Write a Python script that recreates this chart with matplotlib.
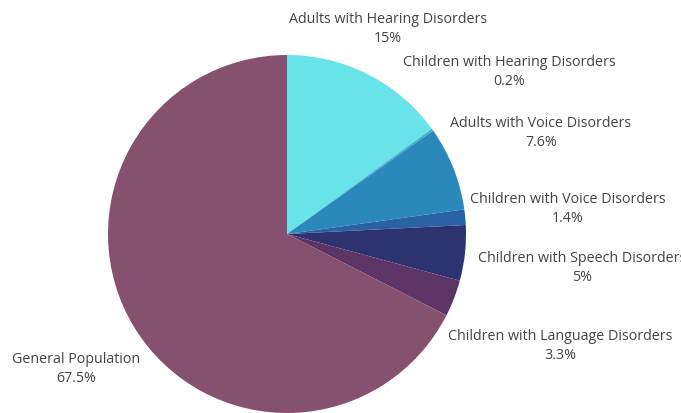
import matplotlib.pyplot as plt

# data
labels = ["Adults with Hearing Disorders", "Children with Hearing Disorders",
          "Adults with Voice Disorders", "Children with Voice Disorders",
          "Children with Speech Disorders", "Children with Language Disorders",
          "General Population"]
shares = [15, 0.2, 7.6, 1.4, 5, 3.3, 67.5]
pct_text = ["15%", "0.2%", "7.6%", "1.4%", "5%", "3.3%", "67.5%"]

colors = ["#67e3e9", "#3fb2d0", "#2b88ba", "#2a62a6", "#2d336f", "#5c3566", "#86506f"]

# layout in pixels (figure is 681x414)
W, H = 681, 414
cx, cy, R = 287, 235, 179
label_px = [(388, 29), (509, 72), (541, 133), (568, 209),
            (582, 268), (560, 346), (76, 369)]

plt.rcParams['font.family'] = ['Open Sans', 'DejaVu Sans']

fig = plt.figure(figsize=(W / 100, H / 100), dpi=100)
ax = fig.add_axes([0, 0, 1, 1])

ax.pie(shares, colors=colors, startangle=90, counterclock=False,
       radius=1, wedgeprops={"linewidth": 0})

for lab, pct, (px, py) in zip(labels, pct_text, label_px):
    ax.text((px - cx) / R, (cy - py) / R, lab + "\n" + pct,
            ha="center", va="center", fontsize=10.3, color="#444444",
            linespacing=1.45)

ax.set_xlim(-cx / R, (W - cx) / R)
ax.set_ylim(-(H - cy) / R, cy / R)
ax.set_aspect("auto")
ax.axis("off")

fig.savefig("out.png", dpi=100, facecolor="white")
